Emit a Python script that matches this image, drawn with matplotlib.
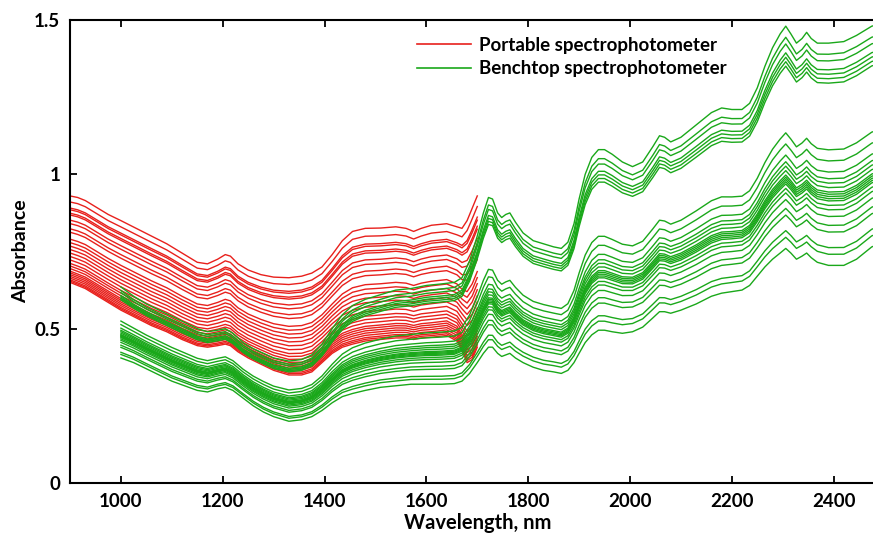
import numpy as np
import matplotlib.pyplot as plt

plt.rcParams['font.family'] = ['Lato', 'DejaVu Sans']
plt.rcParams['font.weight'] = 'bold'

# portable instrument (900-1700 nm): upper and lower envelope spectra
red_nm = [900, 915, 930, 950, 975, 1000, 1030, 1060, 1090, 1120, 1150, 1170,
          1190, 1205, 1215, 1230, 1250, 1275, 1300, 1330, 1355, 1375, 1395,
          1415, 1435, 1455, 1480, 1510, 1540, 1560, 1575, 1590, 1610, 1640,
          1660, 1670, 1680, 1690, 1700]
red_top = [0.93, 0.925, 0.915, 0.895, 0.87, 0.85, 0.825, 0.80, 0.775, 0.745,
           0.715, 0.71, 0.725, 0.74, 0.735, 0.71, 0.69, 0.675, 0.667, 0.665,
           0.67, 0.68, 0.70, 0.74, 0.785, 0.815, 0.825, 0.826, 0.83, 0.825,
           0.815, 0.825, 0.835, 0.84, 0.83, 0.825, 0.85, 0.89, 0.93]
red_bottom = [0.65, 0.64, 0.63, 0.61, 0.585, 0.56, 0.535, 0.51, 0.49, 0.465,
              0.445, 0.44, 0.445, 0.45, 0.445, 0.425, 0.405, 0.385, 0.365, 0.35,
              0.35, 0.36, 0.39, 0.42, 0.44, 0.45, 0.46, 0.465, 0.47, 0.47,
              0.465, 0.47, 0.472, 0.478, 0.46, 0.43, 0.39, 0.40, 0.44]
# position of each sample between the two envelopes
red_weights = [1.0, 0.93, 0.86, 0.84, 0.80, 0.78, 0.72, 0.68, 0.62, 0.58, 0.50,
               0.46, 0.42, 0.38, 0.34, 0.30, 0.26, 0.22, 0.19, 0.16, 0.13, 0.11,
               0.09, 0.07, 0.05, 0.03, 0.015, 0.0]

# benchtop instrument (1000-2500 nm)
green_nm = [1000, 1025, 1050, 1075, 1100, 1125, 1150, 1170, 1190, 1205, 1220,
            1240, 1260, 1280, 1300, 1330, 1355, 1375, 1395, 1415, 1435, 1455,
            1480, 1510, 1540, 1570, 1600, 1630, 1655, 1670, 1685, 1700, 1712,
            1722, 1730, 1740, 1748, 1756, 1764, 1775, 1790, 1810, 1830, 1850,
            1865, 1878, 1890, 1900, 1912, 1925, 1938, 1950, 1965, 1985, 2005,
            2025, 2045, 2058, 2068, 2080, 2100, 2130, 2160, 2180, 2200, 2220,
            2235, 2250, 2265, 2280, 2295, 2306, 2316, 2327, 2338, 2347, 2356,
            2368, 2390, 2420, 2445, 2475, 2500]
green_top = [0.635, 0.605, 0.58, 0.56, 0.54, 0.52, 0.50, 0.49, 0.495, 0.50,
             0.485, 0.455, 0.435, 0.42, 0.405, 0.395, 0.40, 0.415, 0.45, 0.50,
             0.545, 0.575, 0.595, 0.61, 0.625, 0.63, 0.64, 0.645, 0.65, 0.665,
             0.72, 0.80, 0.875, 0.925, 0.92, 0.875, 0.86, 0.87, 0.875, 0.845,
             0.81, 0.785, 0.775, 0.765, 0.76, 0.78, 0.84, 0.92, 1.00, 1.055,
             1.08, 1.08, 1.065, 1.04, 1.025, 1.04, 1.09, 1.125, 1.12, 1.105,
             1.12, 1.16, 1.20, 1.215, 1.21, 1.21, 1.23, 1.28, 1.35, 1.41, 1.455,
             1.48, 1.455, 1.425, 1.44, 1.46, 1.44, 1.425, 1.425, 1.43, 1.45,
             1.48, 1.49]
green_bottom = [0.405, 0.39, 0.37, 0.35, 0.33, 0.315, 0.30, 0.295, 0.305, 0.31,
                0.30, 0.275, 0.25, 0.23, 0.215, 0.20, 0.205, 0.215, 0.235, 0.26,
                0.28, 0.29, 0.30, 0.31, 0.315, 0.32, 0.32, 0.32, 0.322, 0.33,
                0.355, 0.39, 0.42, 0.44, 0.44, 0.42, 0.41, 0.415, 0.42, 0.405,
                0.39, 0.375, 0.365, 0.36, 0.355, 0.365, 0.39, 0.42, 0.455, 0.48,
                0.495, 0.495, 0.49, 0.485, 0.49, 0.505, 0.535, 0.555, 0.555,
                0.55, 0.56, 0.58, 0.605, 0.615, 0.62, 0.625, 0.64, 0.67, 0.70,
                0.725, 0.745, 0.76, 0.745, 0.725, 0.735, 0.745, 0.73, 0.715,
                0.705, 0.705, 0.725, 0.765, 0.78]
green_weights = [1.0, 0.95, 0.92, 0.88, 0.86, 0.84, 0.82,
                 0.52, 0.47, 0.42, 0.39, 0.37, 0.35, 0.33, 0.32, 0.31, 0.30,
                 0.29, 0.27, 0.25, 0.22, 0.18, 0.15,
                 0.08, 0.05, 0.0]

red_c = '#e8201c'
green_c = '#1aa81a'

fig = plt.figure(figsize=(8.73, 5.33), dpi=100)
ax = fig.add_axes([0.0802, 0.0938, 0.933, 0.8687])

rt, rb = np.array(red_top), np.array(red_bottom)
for i, w in enumerate(red_weights):
    ax.plot(red_nm, rb + w * (rt - rb), color=red_c, lw=1.0,
            label='Portable spectrophotometer' if i == 0 else None)

gt, gb = np.array(green_top), np.array(green_bottom)
for i, w in enumerate(green_weights):
    ax.plot(green_nm, gb + w * (gt - gb), color=green_c, lw=1.0,
            label='Benchtop spectrophotometer' if i == 0 else None)

ax.set_xlim(900, 2500)
ax.set_ylim(0, 1.5)
ax.set_xticks([1000, 1200, 1400, 1600, 1800, 2000, 2200, 2400])
ax.set_yticks([0, 0.5, 1, 1.5])
ax.set_yticklabels(['0', '0.5', '1', '1.5'])
ax.tick_params(direction='in', top=True, right=True, length=5, width=1.3,
               labelsize=13.5, pad=7)
for s in ax.spines.values():
    s.set_linewidth(1.5)

ax.set_xlabel('Wavelength, nm', fontsize=14.5, fontweight='bold', labelpad=2)
ax.set_ylabel('Absorbance', fontsize=14, fontweight='bold', labelpad=4)

leg = ax.legend(loc='upper left', bbox_to_anchor=(0.405, 1.0), frameon=False,
                fontsize=13.5, handlelength=2.9, handletextpad=0.4,
                labelspacing=0.35)
for h in leg.get_lines():
    h.set_linewidth(1.2)

fig.savefig('out.png', dpi=100)
